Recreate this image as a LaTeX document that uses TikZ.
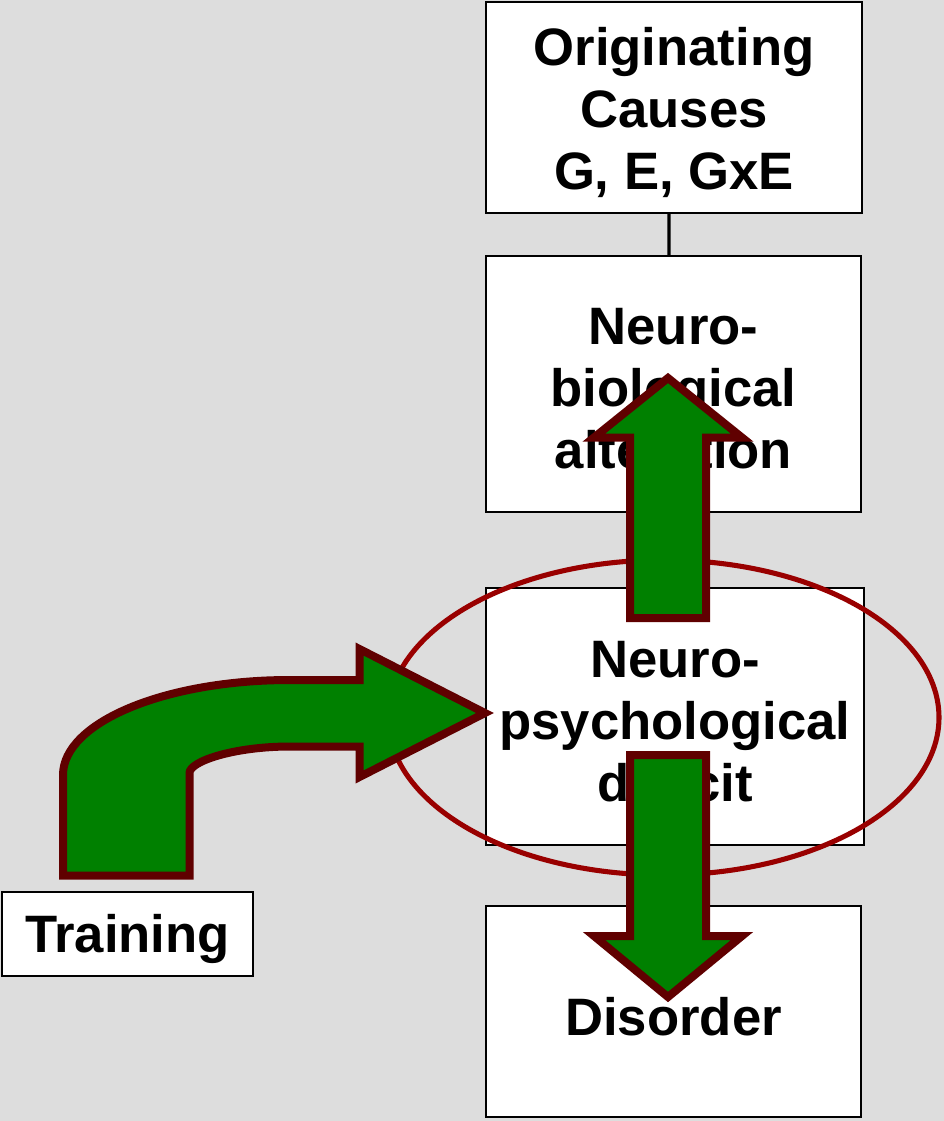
\documentclass[tikz,border=0pt]{standalone}
\usepackage{fontspec}
\setmainfont{Liberation Sans}
\begin{document}
\begin{tikzpicture}[x=0.75pt,y=-0.75pt,
  box/.style={draw=black,line width=1.1pt,fill=white,rectangle,inner sep=0pt,outer sep=0pt},
  txt/.style={inner sep=0pt,align=center,font=\fontsize{39.5}{46.5}\selectfont\bfseries},
  bigarrow/.style={fill=arrowgreen,draw=arrowred,line width=6pt,line join=miter},
  ring/.style={draw=ringred,line width=3.8pt}]
\definecolor{bg}{HTML}{DDDDDD}
\definecolor{arrowgreen}{HTML}{008000}
\definecolor{arrowred}{HTML}{600000}
\definecolor{ringred}{HTML}{990000}
\useasboundingbox (0,0) rectangle (944,1121);
\fill[bg] (0,0) rectangle (944,1121);
% boxes
\node[box,minimum width=282pt,minimum height=158.25pt] (orig) at (674,107.5) {};
\node[box,minimum width=281.25pt,minimum height=192pt] (bio) at (673.5,384) {};
\node[box,minimum width=283.5pt,minimum height=192.75pt] (psy) at (675,716.5) {};
\node[box,minimum width=281.25pt,minimum height=158.25pt] (dis) at (673.5,1011.5) {};
\node[box,minimum width=188.25pt,minimum height=63pt] (train) at (127.5,934) {};
% texts
\node[txt] (origt) at ([yshift=-3.75pt]orig.center) {Originating\\Causes\\G, E, GxE};
\node[txt] (biot) at ([yshift=-3.5pt]bio.center) {Neuro-\\biological\\alteration};
\node[txt] (psyt) at ([yshift=-3.5pt]psy.center) {Neuro-\\psychological\\deficit};
\node[txt] (dist) at ([yshift=-3.75pt]dis.center) {Disorder};
\node[txt] (traint) at ([yshift=-4pt]train.center) {Training};
% connector
\draw[line width=2.3pt] ([xshift=-3.75pt]orig.south) -- ([xshift=-3.4pt]bio.north);
% ellipse
\draw[ring] (663.5,717.5) ellipse [x radius=275.5, y radius=157.5];
% up arrow
\draw[bigarrow] (630,618) -- (630,437.5) -- (594,437.5) -- (668,378) -- (742,437.5) -- (706,437.5) -- (706,618) -- cycle;
% down arrow
\draw[bigarrow] (630,755) -- (630,936) -- (594,936) -- (668,997) -- (742,936) -- (706,936) -- (706,755) -- cycle;
% curved arrow
\draw[bigarrow] (63,875.5) -- (63,775) .. controls (63,722.5) and (164.7,680) .. (290,680)
  -- (359.5,680) -- (359.5,649) -- (485,713) -- (359.5,777) -- (359.5,746.5) -- (290,746.5)
  .. controls (234.8,746.5) and (189.5,761.1) .. (189.5,773) -- (189.5,875.5) -- cycle;
\end{tikzpicture}
\end{document}
